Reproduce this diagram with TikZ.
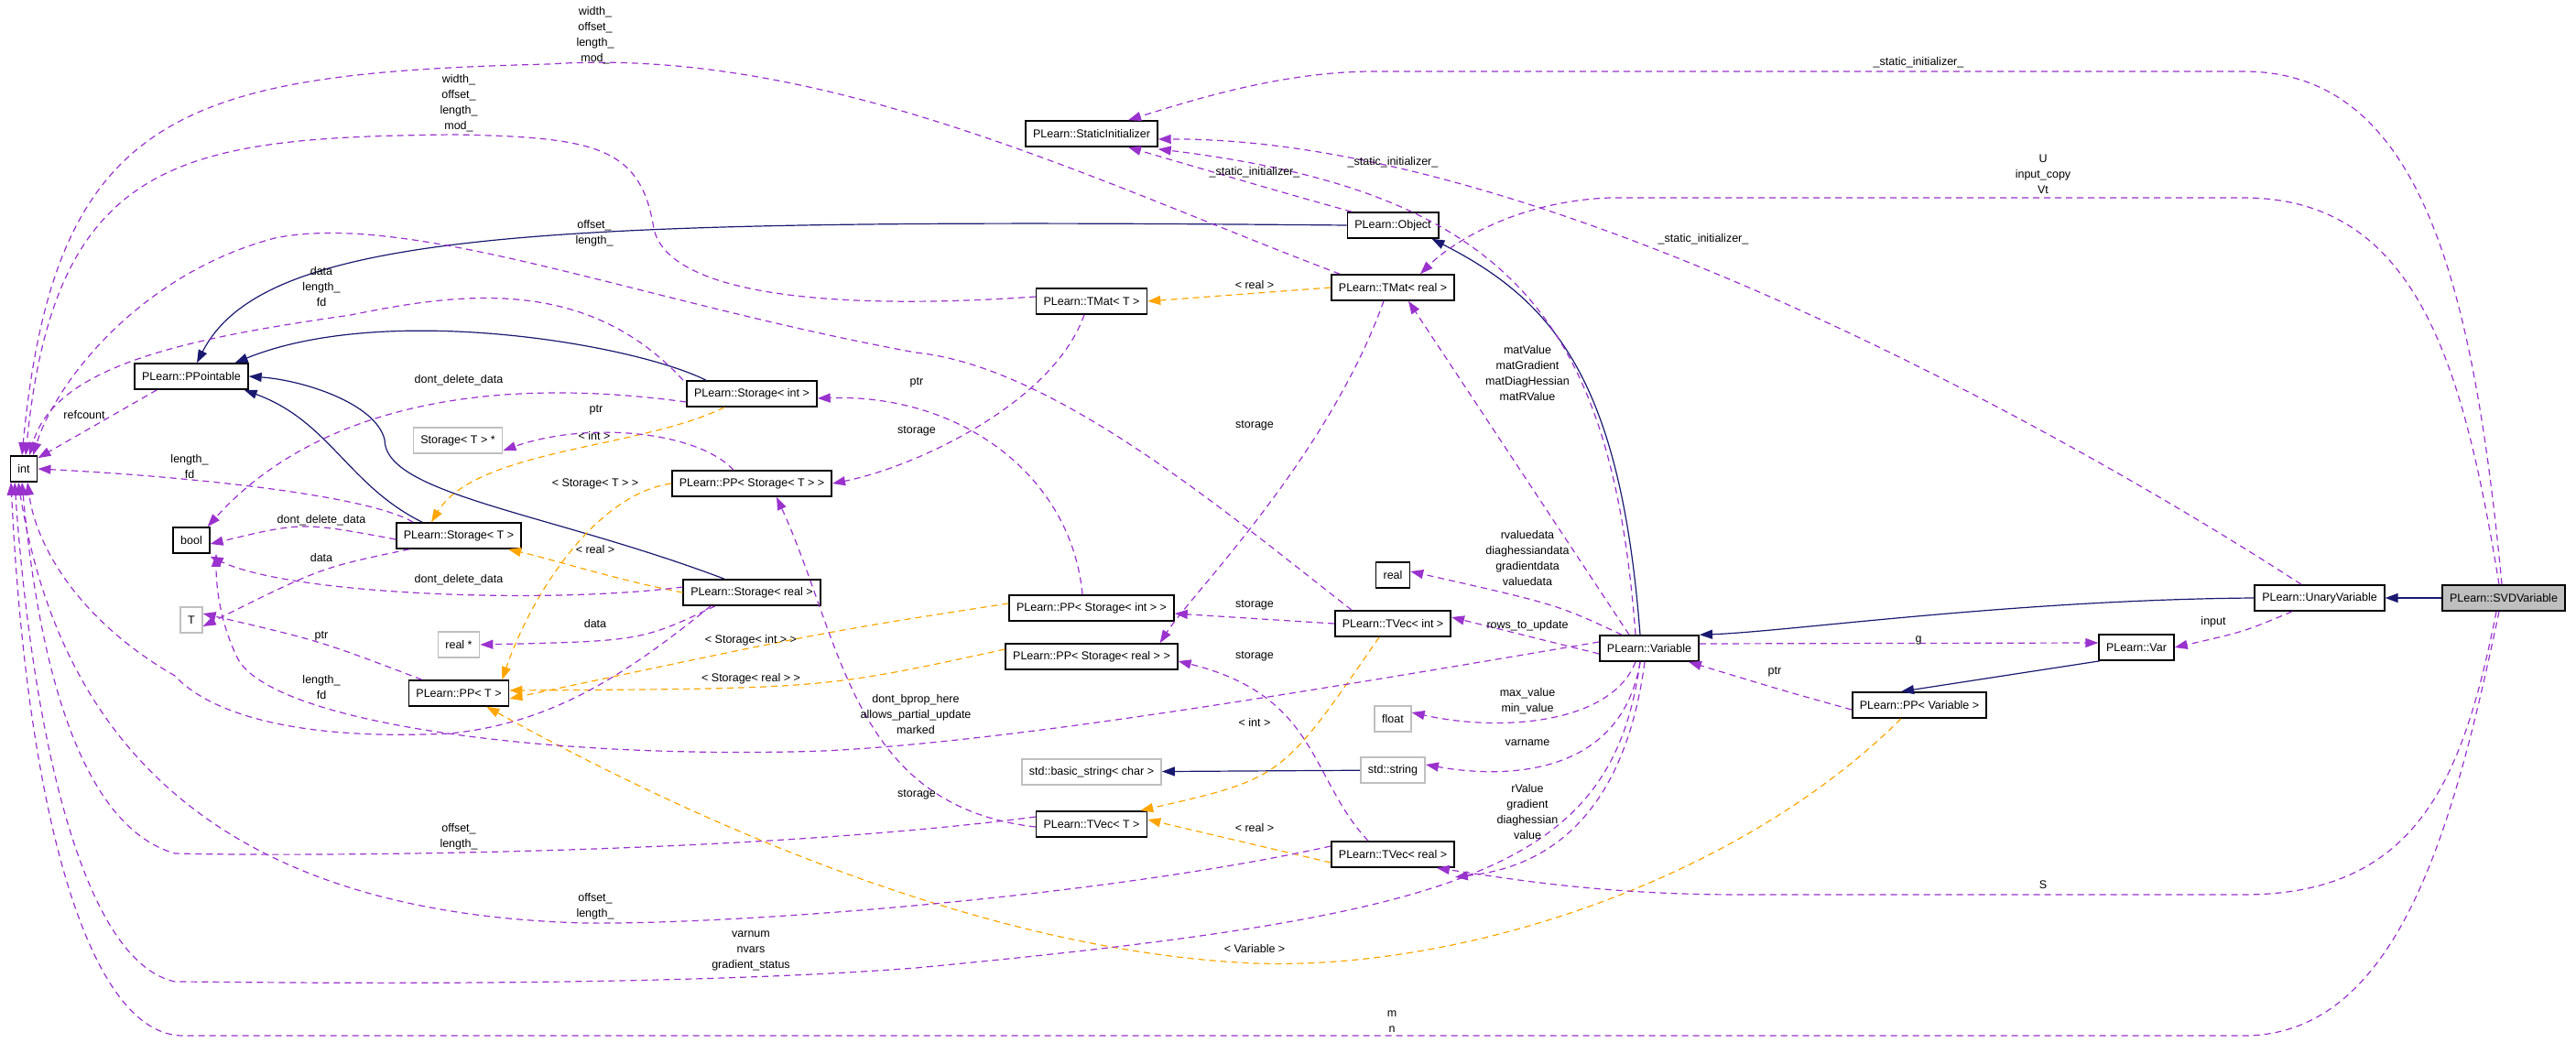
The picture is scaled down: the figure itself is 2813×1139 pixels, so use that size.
\documentclass[tikz,border=0pt]{standalone}
\usepackage{fontspec}
\setmainfont{Liberation Sans}
\usetikzlibrary{arrows.meta}
\definecolor{inhcol}{HTML}{191970}
\definecolor{usecol}{HTML}{9A32CD}
\definecolor{tmplcol}{HTML}{FFA500}
\definecolor{greycol}{HTML}{BFBFBF}
\tikzset{
   cls/.style = {%
    shape=rectangle,
    draw=black,
    line width=1.6pt,
    fill=white,
    inner xsep=8pt,
    minimum height=28pt,
    font=\fontsize{12.5}{12.5}\selectfont},
   ext/.style = {cls, draw=greycol},
   inh/.style = {%
    draw=inhcol,
    line width=1.2pt,
    -{Triangle[length=14pt,width=10pt]}},
   use/.style = {%
    draw=usecol,
    line width=1.2pt,
    dash pattern=on 7pt off 5pt,
    -{Triangle[length=14pt,width=10pt]}},
   tmpl/.style = {use, draw=tmplcol},
   lbl/.style = {%
    align=center,
    font=\fontsize{12.5}{17}\selectfont},
    }
\begin{document}
\begin{tikzpicture}[x=1pt,y=-1pt]
    \useasboundingbox (0,0) rectangle (2813,1139);
    % classes
    \node[cls] (int) at (26,512) {int};
    \node[cls] (ppointable) at (209,411) {PLearn::PPointable};
    \node[cls] (bool) at (209,590) {bool};
    \node[ext] (tparam) at (209,677) {T};
    \node[ext] (stptr) at (500,481) {Storage< T > *};
    \node[cls] (stint) at (821,430) {PLearn::Storage< int >};
    \node[cls] (ppstT) at (821,528) {PLearn::PP< Storage< T > >};
    \node[cls] (stT) at (501,585) {PLearn::Storage< T >};
    \node[cls] (streal) at (821,647) {PLearn::Storage< real >};
    \node[ext] (realptr) at (501,704) {real *};
    \node[cls] (ppT) at (501,757) {PLearn::PP< T >};
    \node[cls] (stinit) at (1192,146) {PLearn::StaticInitializer};
    \node[cls] (object) at (1521,246) {PLearn::Object};
    \node[cls] (tmatreal) at (1521,314) {PLearn::TMat< real >};
    \node[cls] (tmatT) at (1192,329) {PLearn::TMat< T >};
    \node[cls] (real) at (1521,628) {real};
    \node[cls] (tvecint) at (1521,681) {PLearn::TVec< int >};
    \node[cls] (ppstint) at (1192,664) {PLearn::PP< Storage< int > >};
    \node[cls] (ppstreal) at (1192,717) {PLearn::PP< Storage< real > >};
    \node[cls] (variable) at (1801,708) {PLearn::Variable};
    \node[ext] (float) at (1521,785) {float};
    \node[ext] (string) at (1521,841) {std::string};
    \node[ext] (basic) at (1192,843) {std::basic\_string< char >};
    \node[cls] (tvecT) at (1192,900) {PLearn::TVec< T >};
    \node[cls] (tvecreal) at (1521,933) {PLearn::TVec< real >};
    \node[cls] (unary) at (2533,653) {PLearn::UnaryVariable};
    \node[cls, fill=greycol] (svd) at (2734,653) {PLearn::SVDVariable};
    \node[cls] (var) at (2333,707) {PLearn::Var};
    \node[cls] (ppvar) at (2096,770) {PLearn::PP< Variable >};
    % inheritance
    \draw[inh] (object.west) .. controls (600,238) and (290,250) .. ([xshift=6]ppointable.north);
    \draw[inh] ([xshift=-50]stint.north) .. controls (690,375) and (420,330) .. ([xshift=-15]ppointable.north east);
    \draw[inh] ([xshift=-40]stT.north) .. controls (380,530) and (360,460) .. ([xshift=-5]ppointable.south east);
    \draw[inh] ([xshift=-30]streal.north) .. controls (600,560) and (420,540) .. (420,480) .. controls (410,440) and (330,415) .. (ppointable.east);
    \draw[inh] ([xshift=-10]variable.north) .. controls (1770,420) and (1700,330) .. ([xshift=-8]object.south east);
    \draw[inh] (unary.west) .. controls (2200,655) and (1950,690) .. (variable.north east);
    \draw[inh] (svd) -- (unary);
    \draw[inh] ([xshift=-40]var.south) -- ([xshift=-20]ppvar.north);
    \draw[inh] (string) -- (basic);
    % templates
    \draw[tmpl] ([xshift=-30]stint.south) .. controls (700,490) and (520,490) .. ([xshift=-30]stT.north);
    \draw[tmpl] (ppstT.west) .. controls (650,540) and (580,650) .. ([xshift=-8]ppT.north east);
    \draw[tmpl] (streal.west) .. controls (680,635) and (600,610) .. ([xshift=-15]stT.south east);
    \draw[tmpl] ([yshift=5]ppstint.west) .. controls (900,690) .. ([yshift=-6]ppT.east);
    \draw[tmpl] ([yshift=8]ppstreal.west) .. controls (900,752) .. ([yshift=3]ppT.east);
    \draw[tmpl] (tmatreal.west) -- (tmatT.east);
    \draw[tmpl] ([xshift=-15]tvecint.south) .. controls (1400,850) .. ([xshift=-8]tvecT.north east);
    \draw[tmpl] ([yshift=-9]tvecreal.west) -- ([yshift=5]tvecT.east);
    \draw[tmpl] ([xshift=-20]ppvar.south) .. controls (1900,960) and (1600,1060) .. (1370,1052) .. controls (1100,1040) and (800,920) .. ([xshift=-25]ppT.south east);
    % usage
    \draw[use] ([xshift=25]ppointable.south west) -- ([yshift=-3]int.north east);
    \draw[use] ([xshift=-50]stT.north) .. controls (400,540) and (200,520) .. (int.east);
    \draw[use] ([yshift=-4]stT.west) .. controls (330,570) .. ([yshift=-4]bool.east);
    \draw[use] ([xshift=15]stT.south west) .. controls (350,620) .. ([yshift=-7]tparam.east);
    \draw[use] ([yshift=-9]stint.west) .. controls (500,405) and (330,460) .. ([xshift=-3]bool.north east);
    \draw[use] ([xshift=-75]stint.north) .. controls (640,300) and (500,320) .. (383,344) .. controls (200,370) and (60,400) .. ([xshift=6]int.north);
    \draw[use] ([yshift=6]streal.west) .. controls (600,660) and (320,650) .. ([yshift=-3]bool.south east);
    \draw[use] ([xshift=-40]streal.south) .. controls (700,700) .. (realptr.east);
    \draw[use] ([xshift=-45]streal.south) .. controls (680,740) and (600,790) .. (491,801) .. controls (300,810) and (220,770) .. (191,738) .. controls (90,680) and (40,600) .. ([xshift=4]int.south);
    \draw[use] ([xshift=15]ppT.north west) .. controls (350,700) .. ([yshift=7]tparam.east);
    \draw[use] ([xshift=-20]ppstT.north) .. controls (760,470) and (640,460) .. ([yshift=-11]stptr.east);
    \draw[use] ([yshift=5]tmatT.west) .. controls (900,340) and (730,320) .. (714,250) .. controls (700,160) and (650,150) .. (497,147) .. controls (200,150) and (60,170) .. ([xshift=2]int.north);
    \draw[use] ([xshift=10]tmatreal.north west) .. controls (1200,200) and (900,50) .. (600,70) .. controls (200,80) and (60,120) .. ([xshift=-2]int.north);
    \draw[use] ([xshift=-45]tvecint.north) .. controls (1340,560) and (1150,400) .. (1000,385) .. controls (700,330) and (450,230) .. (300,260) .. controls (150,300) and (60,420) .. ([xshift=10]int.north);
    \draw[use] ([xshift=-10]ppstint.north) .. controls (1170,520) and (1050,430) .. ([yshift=-5]stint.east);
    \draw[use] ([xshift=-8]tmatT.south) .. controls (1150,440) and (1000,510) .. (ppstT.east);
    \draw[use] ([xshift=-10]tmatreal.south) .. controls (1450,500) and (1300,650) .. ([xshift=-20]ppstreal.north east);
    \draw[use] (tvecint.west) -- ([yshift=-6]ppstint.east);
    \draw[use] ([xshift=-27]tvecreal.north) .. controls (1430,850) and (1440,760) .. ([yshift=-5]ppstreal.east);
    \draw[use] ([yshift=-3]tvecT.west) .. controls (930,880) and (920,700) .. ([xshift=27]ppstT.south);
    \draw[use] ([yshift=8]tvecT.west) .. controls (800,935) and (300,935) .. (191,932) .. controls (80,900) and (40,700) .. ([xshift=-2]int.south);
    \draw[use] ([yshift=9]tvecreal.west) .. controls (1200,980) and (800,1010) .. (638,1008) .. controls (350,1000) and (80,900) .. ([xshift=-6]int.south);
    \draw[use] ([xshift=-10]variable.south) .. controls (1760,950) and (1600,1000) .. (1000,1057) .. controls (700,1080) and (250,1072) .. (191,1072) .. controls (90,1050) and (35,800) .. ([xshift=-10]int.south);
    \draw[use] ([xshift=-5]svd.south) .. controls (2680,900) and (2620,1131) .. (2450,1131) -- (200,1131) .. controls (100,1131) and (30,900) .. ([xshift=-14]int.south);
    \draw[use] ([xshift=-8]svd.south) .. controls (2690,850) and (2640,977) .. (2450,977) -- (1900,977) .. controls (1750,977) and (1650,960) .. ([xshift=-20]tvecreal.south east);
    \draw[use] ([xshift=-2]svd.north) .. controls (2700,300) and (2640,78) .. (2450,78) -- (1500,78) .. controls (1400,78) and (1300,110) .. ([xshift=40]stinit.north);
    \draw[use] ([xshift=-5]svd.north) .. controls (2690,400) and (2640,216) .. (2450,216) -- (1758,216) .. controls (1650,220) and (1580,270) .. ([xshift=30]tmatreal.north);
    \draw[use] ([xshift=-20]unary.north) .. controls (2300,500) and (1700,150) .. ([yshift=-6]stinit.east);
    \draw[use] ([xshift=-45]object.north) .. controls (1400,210) .. ([xshift=40]stinit.south);
    \draw[use] ([xshift=-15]variable.north) .. controls (1760,350) and (1650,210) .. ([yshift=-2]stinit.south east);
    \draw[use] ([xshift=-22]variable.north) -- ([xshift=17]tmatreal.south);
    \draw[use] ([xshift=-30]variable.north) .. controls (1700,660) .. ([yshift=4]real.east);
    \draw[use] ([yshift=-6]variable.west) -- ([yshift=7]tvecint.east);
    \draw[use] ([xshift=-15]variable.south) .. controls (1760,790) and (1640,800) .. ([yshift=7]float.east);
    \draw[use] ([xshift=-10]variable.south) .. controls (1770,850) and (1640,850) .. ([yshift=6]string.east);
    \draw[use] ([xshift=-5]variable.south) .. controls (1770,920) and (1660,950) .. ([yshift=-10]tvecreal.south east);
    \draw[use] ([yshift=7]variable.west) .. controls (1400,760) and (1100,810) .. (900,820) .. controls (600,830) and (300,790) .. (260,720) .. controls (240,680) and (236,640) .. ([xshift=27]bool.south);
    \draw[use] ([yshift=5]variable.east) -- ([yshift=5]var.west);
    \draw[use] ([xshift=-30]unary.south) .. controls (2450,690) .. (var.east);
    \draw[use] ([yshift=-5]ppvar.west) .. controls (1950,755) .. ([xshift=-12]variable.south east);
    % labels
    \node[lbl] (lrefcount) at (92,453) {refcount};
    \node[lbl] (llenfd) at (207,510) {length\_\\fd};
    \node[lbl] (ldd1) at (351,568) {dont\_delete\_data};
    \node[lbl] (ldata1) at (351,609) {data};
    \node[lbl] (ldd2) at (501,415) {dont\_delete\_data};
    \node[lbl] (ldatalen) at (351,313) {data\\length\_\\fd};
    \node[lbl] (ldd3) at (501,633) {dont\_delete\_data};
    \node[lbl] (ldata2) at (650,681) {data};
    \node[lbl] (llenfd2) at (351,751) {length\_\\fd};
    \node[lbl] (lptr1) at (351,695) {ptr};
    \node[lbl] (lptr2) at (651,448) {ptr};
    \node[lbl] (lwidth1) at (650,39) {width\_\\offset\_\\length\_\\mod\_};
    \node[lbl] (lwidth2) at (501,113) {width\_\\offset\_\\length\_\\mod\_};
    \node[lbl] (loff1) at (649,255) {offset\_\\length\_};
    \node[lbl] (lptr3) at (1001,418) {ptr};
    \node[lbl] (lsto1) at (1001,471) {storage};
    \node[lbl] (lsto2) at (1370,465) {storage};
    \node[lbl] (lsto3) at (1370,661) {storage};
    \node[lbl] (lsto4) at (1370,717) {storage};
    \node[lbl] (lsto5) at (1001,868) {storage};
    \node[lbl] (loff2) at (501,914) {offset\_\\length\_};
    \node[lbl] (loff3) at (650,990) {offset\_\\length\_};
    \node[lbl] (lvarnum) at (820,1038) {varnum\\nvars\\gradient\_status};
    \node[lbl] (lmn) at (1520,1116) {m\\n};
    \node[lbl] (ls) at (2231,966) {S};
    \node[lbl] (lsi1) at (2095,68) {\_static\_initializer\_};
    \node[lbl] (lu) at (2231,190) {U\\input\_copy\\Vt};
    \node[lbl] (lsi2) at (1860,261) {\_static\_initializer\_};
    \node[lbl] (lsi3) at (1370,188) {\_static\_initializer\_};
    \node[lbl] (lsi4) at (1521,177) {\_static\_initializer\_};
    \node[lbl] (lmat) at (1668,408) {matValue\\matGradient\\matDiagHessian\\matRValue};
    \node[lbl] (lrval) at (1668,610) {rvaluedata\\diaghessiandata\\gradientdata\\valuedata};
    \node[lbl] (lrows) at (1668,683) {rows\_to\_update};
    \node[lbl] (lmax) at (1668,766) {max\_value\\min\_value};
    \node[lbl] (lvname) at (1668,811) {varname};
    \node[lbl] (lrvalue) at (1668,887) {rValue\\gradient\\diaghessian\\value};
    \node[lbl] (lbprop) at (1000,780) {dont\_bprop\_here\\allows\_partial\_update\\marked};
    \node[lbl] (lg) at (2095,699) {g};
    \node[lbl] (linput) at (2417,679) {input};
    \node[lbl] (lptr4) at (1938,734) {ptr};
    \node[lbl] (lint1) at (649,476) {< int >};
    \node[lbl] (lstT) at (650,528) {< Storage< T > >};
    \node[lbl] (lreal1) at (650,600) {< real >};
    \node[lbl] (lstint) at (820,699) {< Storage< int > >};
    \node[lbl] (lstreal) at (820,741) {< Storage< real > >};
    \node[lbl] (lreal2) at (1370,311) {< real >};
    \node[lbl] (lint2) at (1370,789) {< int >};
    \node[lbl] (lreal3) at (1370,904) {< real >};
    \node[lbl] (lvar) at (1370,1036) {< Variable >};
\end{tikzpicture}
\end{document}
